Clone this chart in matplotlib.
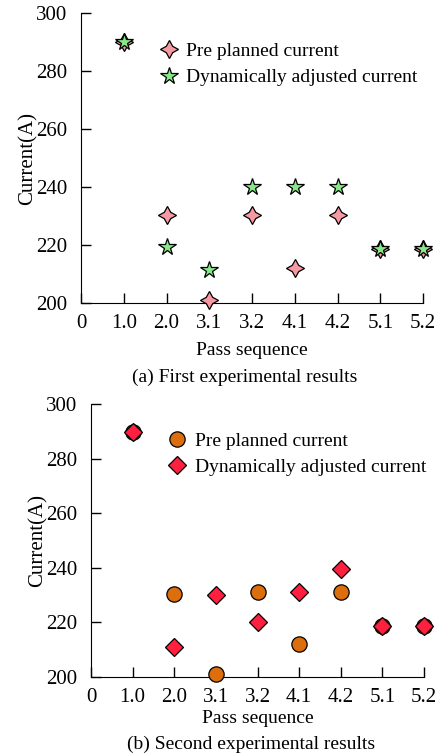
import matplotlib.pyplot as plt

plt.rcParams['font.family'] = ['Liberation Serif', 'DejaVu Serif']
plt.rcParams['font.size'] = 15

passes = ['0', '1.0', '2.0', '3.1', '3.2', '4.1', '4.2', '5.1', '5.2']
y_ticks = [200, 220, 240, 260, 280, 300]

# first experiment
pre_1 = [290, 230.5, 201, 230.5, 212, 230.5, 218.6, 218.6]
dyn_1 = [290, 219.5, 211.5, 240, 240, 240, 218.6, 218.6]

# second experiment
pre_2 = [290, 230.5, 201, 231, 212, 231, 218.6, 218.6]
dyn_2 = [290, 211, 230, 220, 231, 239.5, 218.6, 218.6]

xs = list(range(1, len(passes)))

fig = plt.figure(figsize=(4.45, 7.56), dpi=100)
ax1 = fig.add_axes([0.182, 0.599, 0.769, 0.384])
ax2 = fig.add_axes([0.2045, 0.105, 0.7485, 0.360])


def style(ax):
    ax.set_xlim(0, 8)
    ax.set_ylim(200, 300)
    ax.set_xticks(range(len(passes)))
    ax.set_xticklabels(passes)
    ax.set_yticks(y_ticks)
    ax.spines['top'].set_visible(False)
    ax.spines['right'].set_visible(False)
    ax.tick_params(direction='in', length=7, width=1)
    ax.tick_params(axis='x', pad=8)
    ax.tick_params(axis='y', pad=10)
    for sp in ax.spines.values():
        sp.set_clip_on(False)


style(ax1)
ax1.set_xlabel('Pass sequence', labelpad=6, fontsize=14)
ax1.set_ylabel('Current(A)', labelpad=-1)
ax1.plot(xs, pre_1, ls='none', marker=(4, 1, 0), ms=13, mfc='#f59aa2',
         mec='black', mew=0.9, label='Pre planned current', clip_on=False, zorder=3)
ax1.plot(xs, dyn_1, ls='none', marker='*', ms=13, mfc='#86e886',
         mec='black', mew=0.9, label='Dynamically adjusted current', clip_on=False, zorder=4)
ax1.legend(loc='upper left', bbox_to_anchor=(0.2, 0.925), frameon=False, fontsize=14,
           handletextpad=0.3, borderaxespad=0, labelspacing=0.45, handlelength=1.2)
fig.text(0.55, 0.501, '(a) First experimental results', ha='center', va='center',
         fontsize=14)

style(ax2)
ax2.set_xlabel('Pass sequence', labelpad=2, fontsize=14)
ax2.set_ylabel('Current(A)', labelpad=-1)
ax2.plot(xs, pre_2, ls='none', marker='o', ms=11, mfc='#dc6e0e',
         mec='black', mew=0.9, label='Pre planned current', clip_on=False, zorder=3)
ax2.plot(xs, dyn_2, ls='none', marker='D', ms=9, mfc='#ff2040',
         mec='black', mew=0.9, label='Dynamically adjusted current', clip_on=False, zorder=4)
ax2.legend(loc='upper left', bbox_to_anchor=(0.2, 0.925), frameon=False, fontsize=14,
           handletextpad=0.3, borderaxespad=0, labelspacing=0.4, handlelength=1.2)
fig.text(0.565, 0.015, '(b) Second experimental results', ha='center', va='center',
         fontsize=14)

fig.savefig('out.png', dpi=100)
